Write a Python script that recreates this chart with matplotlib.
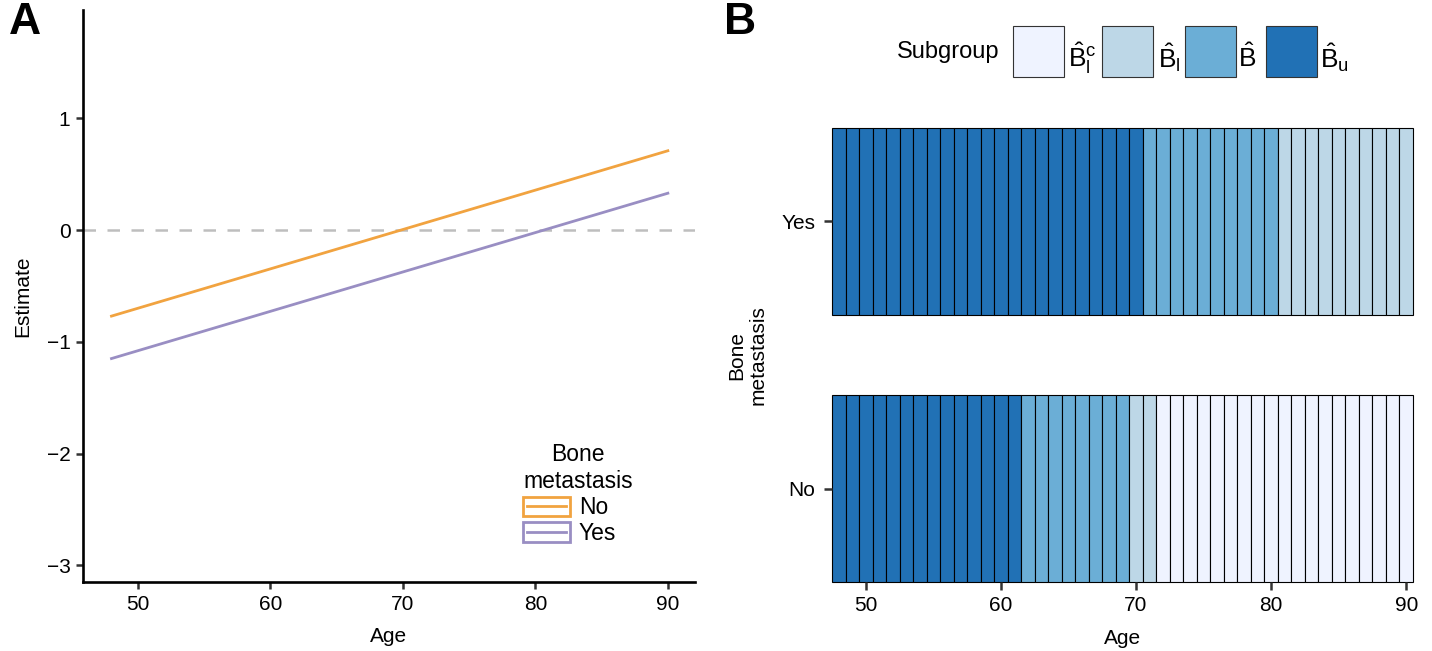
import matplotlib
matplotlib.use("Agg")
import matplotlib.pyplot as plt
from matplotlib.patches import Rectangle
from matplotlib.lines import Line2D
from matplotlib.legend_handler import HandlerBase

plt.rcParams['font.family'] = ['Liberation Sans', 'DejaVu Sans']
plt.rcParams['mathtext.fontset'] = 'custom'
plt.rcParams['mathtext.rm'] = 'Liberation Sans'
plt.rcParams['mathtext.it'] = 'Liberation Sans'
plt.rcParams['mathtext.bf'] = 'Liberation Sans:bold'

# ---------------- data ----------------
# Panel A: linear estimates by age
age_line = [48, 90]
est_no = [-0.77, 0.71]
est_yes = [-1.15, 0.33]
group_names = ["No", "Yes"]
group_colors = ["#f1a340", "#998ec3"]

# Panel B: subgroup per age
ages = list(range(48, 91))
subgroup_yes = [
    "Bu", "Bu", "Bu", "Bu", "Bu", "Bu", "Bu", "Bu", "Bu", "Bu",   # 48-57
    "Bu", "Bu", "Bu", "Bu", "Bu", "Bu", "Bu", "Bu", "Bu", "Bu",   # 58-67
    "Bu", "Bu", "Bu", "B", "B", "B", "B", "B", "B", "B",           # 68-77
    "B", "B", "B", "Bl", "Bl", "Bl", "Bl", "Bl", "Bl", "Bl",       # 78-87
    "Bl", "Bl", "Bl"]                                              # 88-90
subgroup_no = [
    "Bu", "Bu", "Bu", "Bu", "Bu", "Bu", "Bu", "Bu", "Bu", "Bu",   # 48-57
    "Bu", "Bu", "Bu", "Bu", "B", "B", "B", "B", "B", "B",          # 58-67
    "B", "B", "Bl", "Bl", "Blc", "Blc", "Blc", "Blc", "Blc", "Blc",  # 68-77
    "Blc", "Blc", "Blc", "Blc", "Blc", "Blc", "Blc", "Blc", "Blc", "Blc",  # 78-87
    "Blc", "Blc", "Blc"]                                           # 88-90
subgroup_levels = ["Blc", "Bl", "B", "Bu"]
subgroup_labels = [r"$\hat{\mathrm{B}}_{\mathrm{l}}^{\mathrm{c}}$", r"$\hat{\mathrm{B}}_{\mathrm{l}}$",
                   r"$\hat{\mathrm{B}}$", r"$\hat{\mathrm{B}}_{\mathrm{u}}$"]
subgroup_colors = {"Blc": "#eff3ff", "Bl": "#bdd7e7", "B": "#6baed6", "Bu": "#2171b5"}
rows = ["No", "Yes"]

W, H = 1432, 651
fig = plt.figure(figsize=(W / 100, H / 100), dpi=100)

def fx(px):
    return px / W

def fy(py):
    return 1 - py / H

tick_col = "#333333"
TICK_FS = 15
LAB_FS = 15

# ---------------- Panel A ----------------
axA = fig.add_axes([fx(83), fy(582), fx(695) - fx(83), fy(10) - fy(582)])
axA.axhline(0, color="#bebebe", lw=1.8, ls=(0, (5, 4.6)), zorder=1)
axA.plot(age_line, est_no, color=group_colors[0], lw=2.0, zorder=3)
axA.plot(age_line, est_yes, color=group_colors[1], lw=2.0, zorder=3)
axA.set_xlim(45.85, 92.05)
axA.set_ylim(-3.15, 1.97)
axA.set_xticks([50, 60, 70, 80, 90])
axA.set_yticks([-3, -2, -1, 0, 1])
for s in ["top", "right"]:
    axA.spines[s].set_visible(False)
for s in ["left", "bottom"]:
    axA.spines[s].set_linewidth(1.9)
    axA.spines[s].set_color("black")
axA.tick_params(axis="both", direction="out", length=5, width=1.8, color=tick_col,
                labelsize=TICK_FS, labelcolor="black", pad=4)
axA.set_xlabel("Age", fontsize=LAB_FS, labelpad=10)
axA.set_ylabel("Estimate", fontsize=LAB_FS, labelpad=10)


class BoxLineHandler(HandlerBase):
    def create_artists(self, legend, orig_handle, xdescent, ydescent, width, height, fontsize, trans):
        c = orig_handle.get_color()
        r = Rectangle((-xdescent, -ydescent - 1), width, height + 2, facecolor="white",
                      edgecolor=c, lw=2.0, transform=trans)
        ln = Line2D([-xdescent + 3, -xdescent + width - 3],
                    [-ydescent + height / 2, -ydescent + height / 2],
                    color=c, lw=2.0, transform=trans)
        return [r, ln]


handles = [Line2D([], [], color=group_colors[0]), Line2D([], [], color=group_colors[1])]
axA_w = fx(695) - fx(83)
axA_h = fy(10) - fy(582)
leg = axA.legend(handles, group_names, handler_map={Line2D: BoxLineHandler()},
                 title="Bone\nmetastasis", loc="upper left",
                 bbox_to_anchor=((fx(523) - fx(83)) / axA_w, (fy(443) - fy(582)) / axA_h),
                 frameon=False, fontsize=16.5, title_fontsize=16.5, handlelength=2.05,
                 handleheight=0.72, labelspacing=0.12, handletextpad=0.38,
                 alignment="left", borderpad=0.0, borderaxespad=0.0)
leg.get_title().set_multialignment("center")
leg.get_title().set_linespacing(1.25)

fig.text(fx(25), fy(23), "A", fontsize=32, fontweight="bold", ha="center", va="center")

# ---------------- Panel B ----------------
axB = fig.add_axes([fx(832), fy(582), fx(1413) - fx(832), fy(128) - fy(582)])
for yi, (row, sub) in enumerate(zip(rows, [subgroup_no, subgroup_yes])):
    cols = [subgroup_colors[s] for s in sub]
    bars = axB.bar(ages, [0.7] * len(ages), width=1.0, bottom=yi + 1 - 0.35, color=cols,
                   edgecolor="black", linewidth=0.8)
    for b in bars:
        b.set_clip_on(False)
axB.set_xlim(47.5, 90.5)
axB.set_ylim(0.65, 2.35)
axB.set_xticks([50, 60, 70, 80, 90])
axB.set_yticks([1, 2])
axB.set_yticklabels(rows)
for s in axB.spines.values():
    s.set_visible(False)
axB.tick_params(axis="both", direction="out", length=6, width=1.8, color=tick_col,
                labelsize=TICK_FS, labelcolor="black", pad=4)
axB.tick_params(axis="y", pad=6)
axB.set_xlabel("Age", fontsize=LAB_FS, labelpad=10)
axB.set_ylabel("Bone\nmetastasis", fontsize=LAB_FS, labelpad=10, linespacing=1.15)

fig.text(fx(740), fy(23), "B", fontsize=32, fontweight="bold", ha="center", va="center")

# legend for panel B (horizontal)
fig.text(fx(948), fy(52), "Subgroup", fontsize=17, ha="center", va="center")
box_left = [1013, 1102, 1185, 1266]
label_x = [1068, 1158, 1238, 1320]
for lev, lab, bx, lx in zip(subgroup_levels, subgroup_labels, box_left, label_x):
    fig.patches.append(Rectangle((fx(bx), fy(77)), fx(51), fy(26) - fy(77),
                                 transform=fig.transFigure, facecolor=subgroup_colors[lev],
                                 edgecolor="#333333", lw=0.8))
    fig.text(fx(lx), fy(58), lab, fontsize=19, ha="left", va="center")

fig.savefig("out.png", dpi=100)
